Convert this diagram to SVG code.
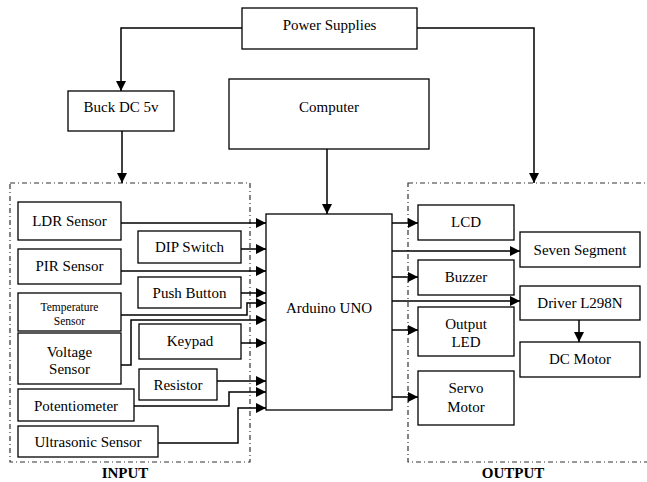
<svg xmlns="http://www.w3.org/2000/svg" width="647" height="482" viewBox="0 0 647 482">
<style>
.box{fill:#fff;stroke:#000;stroke-width:1.3}
.grp{fill:none;stroke:#333;stroke-width:1.2;stroke-dasharray:5 3 1 3}
.t{font-family:"Liberation Serif","Times New Roman",serif;font-size:15px;text-anchor:middle;fill:#000}
.s{font-size:11.5px}
.b{font-weight:bold}
.c{fill:none;stroke:#000;stroke-width:1.5;marker-end:url(#ah)}
</style>
<defs>
<marker id="ah" markerUnits="userSpaceOnUse" markerWidth="12" markerHeight="12" refX="10" refY="5" orient="auto">
<path d="M0,0 L10,5 L0,10 Z" fill="#000"/>
</marker>
</defs>
<rect width="647" height="482" fill="#fff"/>
<g id="input-group"><rect class="grp" x="10" y="183" width="240" height="279"/><text class="t b" x="125" y="478">INPUT</text></g>
<g id="output-group"><rect class="grp" x="408" y="183" width="245" height="279"/><text class="t b" x="513" y="478">OUTPUT</text></g>
<g id="connectors">
<path class="c" d="M242,28 H121 V91"/>
<path class="c" d="M417,28 H534 V183"/>
<path class="c" d="M122,131 V183"/>
<path class="c" d="M327,149 V214"/>
<path class="c" d="M121,223 H266"/>
<path class="c" d="M241,249 H266"/>
<path class="c" d="M121,271 H266"/>
<path class="c" d="M241,293 H266"/>
<path class="c" d="M121,315 H247 V303 H266"/>
<path class="c" d="M121,365 H131 V320 H266"/>
<path class="c" d="M241,343 H266"/>
<path class="c" d="M217,381 H266"/>
<path class="c" d="M134,406 H229 V392 H266"/>
<path class="c" d="M158,443 H238 V408 H266"/>
<path class="c" d="M392,223 H418"/>
<path class="c" d="M392,251 H520"/>
<path class="c" d="M392,277 H418"/>
<path class="c" d="M392,301 H520"/>
<path class="c" d="M392,330 H418"/>
<path class="c" d="M392,397 H418"/>
<path class="c" d="M579,320 V342"/>
</g>
<g id="power"><rect class="box" x="242" y="8" width="175" height="41"/><text class="t" x="329.5" y="30">Power Supplies</text></g>
<g id="buck"><rect class="box" x="68" y="91" width="106" height="40"/><text class="t" x="121" y="112">Buck DC 5v</text></g>
<g id="computer"><rect class="box" x="229" y="79" width="200" height="70"/><text class="t" x="329" y="112">Computer</text></g>
<g id="arduino"><rect class="box" x="266" y="214" width="126" height="196"/><text class="t" x="329" y="313">Arduino UNO</text></g>
<g id="ldr"><rect class="box" x="18" y="202" width="103" height="38"/><text class="t" x="69.5" y="226">LDR Sensor</text></g>
<g id="dip"><rect class="box" x="138" y="231" width="103" height="32"/><text class="t" x="189.5" y="252">DIP Switch</text></g>
<g id="pir"><rect class="box" x="18" y="249" width="103" height="35"/><text class="t" x="69.5" y="271">PIR Sensor</text></g>
<g id="push"><rect class="box" x="138" y="277" width="103" height="31"/><text class="t" x="189.5" y="298">Push Button</text></g>
<g id="temp"><rect class="box" x="18" y="293" width="103" height="38"/><text class="t s" x="69.5" y="311">Temperature</text><text class="t s" x="69.5" y="325">Sensor</text></g>
<g id="voltage"><rect class="box" x="18" y="333" width="103" height="51"/><text class="t" x="69.5" y="357">Voltage</text><text class="t" x="69.5" y="374">Sensor</text></g>
<g id="keypad"><rect class="box" x="139" y="324" width="102" height="35"/><text class="t" x="190" y="346">Keypad</text></g>
<g id="resistor"><rect class="box" x="139" y="369" width="78" height="31"/><text class="t" x="178" y="390">Resistor</text></g>
<g id="pot"><rect class="box" x="18" y="389" width="116" height="32"/><text class="t" x="76" y="411">Potentiometer</text></g>
<g id="ultra"><rect class="box" x="18" y="426" width="140" height="31"/><text class="t" x="88" y="447">Ultrasonic Sensor</text></g>
<g id="lcd"><rect class="box" x="418" y="205" width="96" height="35"/><text class="t" x="466" y="227">LCD</text></g>
<g id="seven"><rect class="box" x="520" y="232" width="120" height="35"/><text class="t" x="580" y="255">Seven Segment</text></g>
<g id="buzzer"><rect class="box" x="418" y="260" width="96" height="35"/><text class="t" x="466" y="282">Buzzer</text></g>
<g id="driver"><rect class="box" x="520" y="286" width="120" height="34"/><text class="t" x="580" y="308">Driver L298N</text></g>
<g id="led"><rect class="box" x="418" y="307" width="96" height="49"/><text class="t" x="466" y="329">Output</text><text class="t" x="466" y="347">LED</text></g>
<g id="dcmotor"><rect class="box" x="520" y="342" width="120" height="35"/><text class="t" x="580" y="364">DC Motor</text></g>
<g id="servo"><rect class="box" x="418" y="371" width="96" height="54"/><text class="t" x="466" y="393">Servo</text><text class="t" x="466" y="412">Motor</text></g>
</svg>
